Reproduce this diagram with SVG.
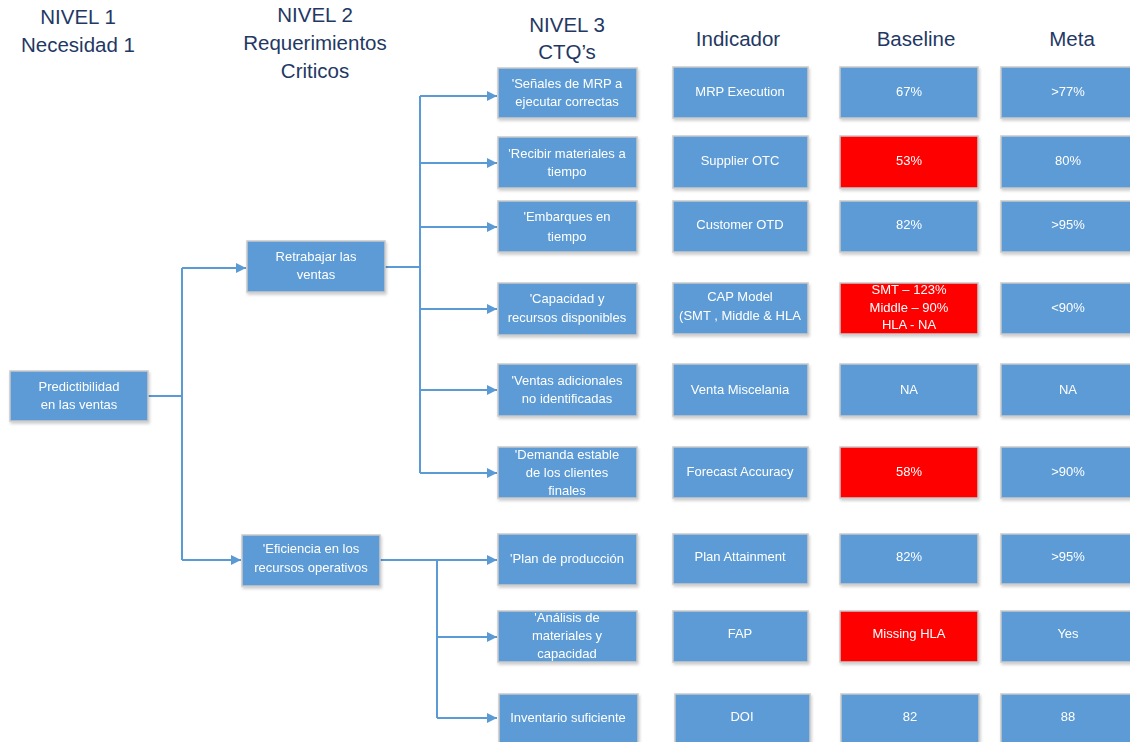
<svg xmlns="http://www.w3.org/2000/svg" width="1130" height="742" viewBox="0 0 1130 742">
<style>
.hd{font-family:"Liberation Sans",Arial,sans-serif;font-size:20.5px;fill:#1F3864;text-anchor:middle}
.b{fill:#5B9BD5;stroke:#C9C9C9;stroke-width:1.5}
.r{fill:#FF0000;stroke:#C9C9C9;stroke-width:1.5}
.t{font-family:"Liberation Sans",Arial,sans-serif;font-size:13px;fill:#FFFFFF;text-anchor:middle}
.c{fill:none;stroke:#5B9BD5;stroke-width:2}
</style>
<defs>
<marker id="ah" viewBox="0 0 10 10" refX="10" refY="5" markerWidth="10" markerHeight="10" markerUnits="userSpaceOnUse" orient="auto">
<path d="M0,0 L10,5 L0,10 Z" fill="#5B9BD5"/>
</marker>
<filter id="sh" x="-10%" y="-10%" width="130%" height="140%">
<feDropShadow dx="1" dy="2" stdDeviation="1.5" flood-color="#000" flood-opacity="0.2"/>
</filter>
</defs>
<rect width="1130" height="742" fill="#FFFFFF"/>
<g id="headers">
<text class="hd" x="78" y="24">NIVEL 1</text>
<text class="hd" x="78" y="52">Necesidad 1</text>
<text class="hd" x="315" y="22">NIVEL 2</text>
<text class="hd" x="315" y="50">Requerimientos</text>
<text class="hd" x="315" y="78">Criticos</text>
<text class="hd" x="567" y="32">NIVEL 3</text>
<text class="hd" x="567" y="59">CTQ’s</text>
<text class="hd" x="738" y="46">Indicador</text>
<text class="hd" x="916" y="46">Baseline</text>
<text class="hd" x="1072" y="46">Meta</text>
</g>
<g id="connectors">
<polyline class="c" points="148,396 182,396"/>
<polyline class="c" points="182,268 182,560"/>
<polyline class="c" points="182,268 246,268" marker-end="url(#ah)"/>
<polyline class="c" points="182,560 241,560" marker-end="url(#ah)"/>
<polyline class="c" points="385,267 420,267"/>
<polyline class="c" points="420,96 420,473"/>
<polyline class="c" points="420,96 497,96" marker-end="url(#ah)"/>
<polyline class="c" points="420,163 497,163" marker-end="url(#ah)"/>
<polyline class="c" points="420,227 497,227" marker-end="url(#ah)"/>
<polyline class="c" points="420,309 497,309" marker-end="url(#ah)"/>
<polyline class="c" points="420,390 497,390" marker-end="url(#ah)"/>
<polyline class="c" points="420,473 497,473" marker-end="url(#ah)"/>
<polyline class="c" points="380,560 437,560"/>
<polyline class="c" points="437,560 437,718"/>
<polyline class="c" points="437,560 497,560" marker-end="url(#ah)"/>
<polyline class="c" points="437,637 497,637" marker-end="url(#ah)"/>
<polyline class="c" points="437,718 497,718" marker-end="url(#ah)"/>
</g>
<g id="n1" filter="url(#sh)"><rect class="b" x="10" y="371" width="138" height="50"/>
<text class="t" x="79" y="391">Predictibilidad</text><text class="t" x="79" y="409">en las ventas</text></g>
<g id="n2a" filter="url(#sh)"><rect class="b" x="247" y="241" width="138" height="51"/>
<text class="t" x="316" y="261">Retrabajar las</text><text class="t" x="316" y="279">ventas</text></g>
<g id="n2b" filter="url(#sh)"><rect class="b" x="242" y="535" width="138" height="51"/>
<text class="t" x="311" y="553">'Eficiencia en los</text><text class="t" x="311" y="572">recursos operativos</text></g>

<g id="ctq1" filter="url(#sh)"><rect class="b" x="498" y="68" width="139" height="50"/>
<text class="t" x="567" y="88">'Señales  de MRP a</text><text class="t" x="567" y="106">ejecutar correctas</text></g>
<g id="ctq2" filter="url(#sh)"><rect class="b" x="498" y="137" width="139" height="51"/>
<text class="t" x="567" y="158">'Recibir materiales a</text><text class="t" x="567" y="176">tiempo</text></g>
<g id="ctq3" filter="url(#sh)"><rect class="b" x="498" y="201" width="139" height="51"/>
<text class="t" x="567" y="221">'Embarques en</text><text class="t" x="567" y="241">tiempo</text></g>
<g id="ctq4" filter="url(#sh)"><rect class="b" x="498" y="283" width="139" height="52"/>
<text class="t" x="567" y="303">'Capacidad y</text><text class="t" x="567" y="322">recursos disponibles</text></g>
<g id="ctq5" filter="url(#sh)"><rect class="b" x="498" y="364" width="139" height="52"/>
<text class="t" x="567" y="385">'Ventas adicionales</text><text class="t" x="567" y="403">no identificadas</text></g>
<g id="ctq6" filter="url(#sh)"><rect class="b" x="498" y="447" width="139" height="51"/>
<text class="t" x="567" y="459">'Demanda estable</text><text class="t" x="567" y="477">de los clientes</text><text class="t" x="567" y="495">finales</text></g>
<g id="ctq7" filter="url(#sh)"><rect class="b" x="498" y="534" width="139" height="51"/>
<text class="t" x="567" y="563">'Plan de producción</text></g>
<g id="ctq8" filter="url(#sh)"><rect class="b" x="498" y="611" width="139" height="51"/>
<text class="t" x="567" y="622">'Análisis de</text><text class="t" x="567" y="640">materiales y</text><text class="t" x="567" y="658">capacidad</text></g>
<g id="ctq9" filter="url(#sh)"><rect class="b" x="499" y="694" width="139" height="50"/>
<text class="t" x="568" y="722">Inventario suficiente</text></g>

<g id="ind1" filter="url(#sh)"><rect class="b" x="673" y="67" width="135" height="51"/><text class="t" x="740" y="96">MRP Execution</text></g>
<g id="ind2" filter="url(#sh)"><rect class="b" x="673" y="136" width="135" height="52"/><text class="t" x="740" y="165">Supplier OTC</text></g>
<g id="ind3" filter="url(#sh)"><rect class="b" x="673" y="201" width="135" height="51"/><text class="t" x="740" y="229">Customer OTD</text></g>
<g id="ind4" filter="url(#sh)"><rect class="b" x="673" y="283" width="135" height="51"/>
<text class="t" x="740" y="301">CAP Model</text><text class="t" x="740" y="320">(SMT , Middle &amp; HLA</text></g>
<g id="ind5" filter="url(#sh)"><rect class="b" x="673" y="364" width="135" height="52"/><text class="t" x="740" y="394">Venta Miscelania</text></g>
<g id="ind6" filter="url(#sh)"><rect class="b" x="673" y="447" width="135" height="51"/><text class="t" x="740" y="476">Forecast Accuracy</text></g>
<g id="ind7" filter="url(#sh)"><rect class="b" x="673" y="534" width="135" height="50"/><text class="t" x="740" y="561">Plan Attainment</text></g>
<g id="ind8" filter="url(#sh)"><rect class="b" x="673" y="611" width="135" height="51"/><text class="t" x="740" y="638">FAP</text></g>
<g id="ind9" filter="url(#sh)"><rect class="b" x="675" y="694" width="135" height="50"/><text class="t" x="742" y="721">DOI</text></g>

<g id="base1" filter="url(#sh)"><rect class="b" x="840" y="67" width="138" height="51"/><text class="t" x="909" y="96">67%</text></g>
<g id="base2" filter="url(#sh)"><rect class="r" x="840" y="136" width="138" height="52"/><text class="t" x="909" y="165">53%</text></g>
<g id="base3" filter="url(#sh)"><rect class="b" x="840" y="201" width="138" height="51"/><text class="t" x="909" y="229">82%</text></g>
<g id="base4" filter="url(#sh)"><rect class="r" x="840" y="283" width="138" height="51"/>
<text class="t" x="909" y="294">SMT – 123%</text><text class="t" x="909" y="312">Middle – 90%</text><text class="t" x="909" y="329">HLA - NA</text></g>
<g id="base5" filter="url(#sh)"><rect class="b" x="840" y="364" width="138" height="52"/><text class="t" x="909" y="394">NA</text></g>
<g id="base6" filter="url(#sh)"><rect class="r" x="840" y="447" width="138" height="51"/><text class="t" x="909" y="476">58%</text></g>
<g id="base7" filter="url(#sh)"><rect class="b" x="840" y="534" width="138" height="50"/><text class="t" x="909" y="561">82%</text></g>
<g id="base8" filter="url(#sh)"><rect class="r" x="840" y="611" width="138" height="51"/><text class="t" x="909" y="638">Missing HLA</text></g>
<g id="base9" filter="url(#sh)"><rect class="b" x="841" y="694" width="138" height="50"/><text class="t" x="910" y="721">82</text></g>

<g id="meta1" filter="url(#sh)"><rect class="b" x="1001" y="67" width="135" height="51"/><text class="t" x="1068" y="96">&gt;77%</text></g>
<g id="meta2" filter="url(#sh)"><rect class="b" x="1001" y="136" width="135" height="52"/><text class="t" x="1068" y="165">80%</text></g>
<g id="meta3" filter="url(#sh)"><rect class="b" x="1001" y="201" width="135" height="51"/><text class="t" x="1068" y="229">&gt;95%</text></g>
<g id="meta4" filter="url(#sh)"><rect class="b" x="1001" y="283" width="135" height="51"/><text class="t" x="1068" y="312">&lt;90%</text></g>
<g id="meta5" filter="url(#sh)"><rect class="b" x="1001" y="364" width="135" height="52"/><text class="t" x="1068" y="394">NA</text></g>
<g id="meta6" filter="url(#sh)"><rect class="b" x="1001" y="447" width="135" height="51"/><text class="t" x="1068" y="476">&gt;90%</text></g>
<g id="meta7" filter="url(#sh)"><rect class="b" x="1001" y="534" width="135" height="50"/><text class="t" x="1068" y="561">&gt;95%</text></g>
<g id="meta8" filter="url(#sh)"><rect class="b" x="1001" y="611" width="135" height="51"/><text class="t" x="1068" y="638">Yes</text></g>
<g id="meta9" filter="url(#sh)"><rect class="b" x="1001" y="694" width="135" height="50"/><text class="t" x="1068" y="721">88</text></g>
</svg>
